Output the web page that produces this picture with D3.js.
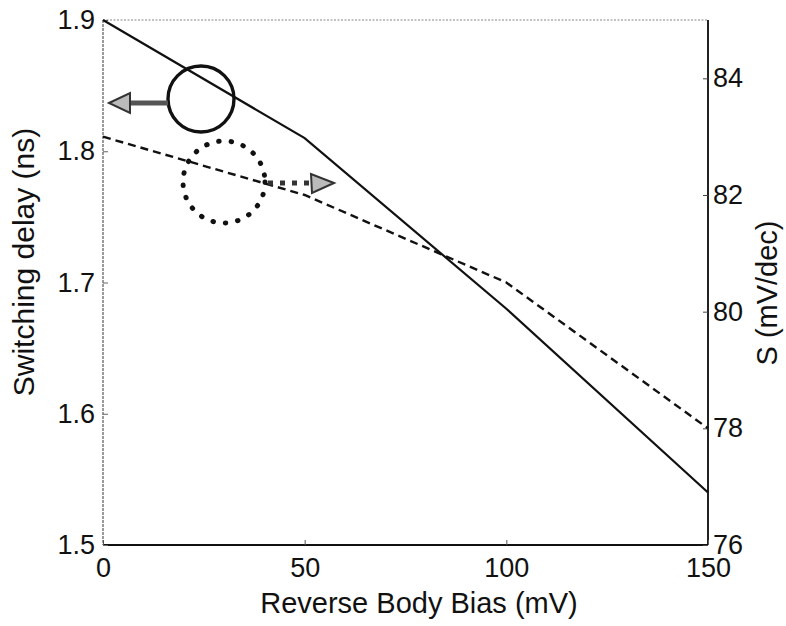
<!DOCTYPE html>
<html><head><meta charset="utf-8">
<script src="https://cdn.jsdelivr.net/npm/d3@7"></script>
<style>body{margin:0;background:#fff}svg text{font-family:"Liberation Sans",Arial,sans-serif;fill:#111}</style>
</head><body>
<svg id="c" width="786" height="626"></svg>
<script>
const biasMV = [0, 50, 100, 150];
const delayNs = [1.90, 1.81, 1.68, 1.54];
const slopeS = [83.0, 82.0, 80.5, 78.0];
const xTicks = [0, 50, 100, 150];
const yLeftTicks = [1.5, 1.6, 1.7, 1.8, 1.9];
const yRightTicks = [76, 78, 80, 82, 84];

const svg = d3.select("#c");
const L = 103, R = 708, T = 20, B = 545;
const x = d3.scaleLinear().domain([0, 150]).range([L, R]);
const yL = d3.scaleLinear().domain([1.5, 1.9]).range([B, T]);
const yR = d3.scaleLinear().domain([76, 85]).range([B, T]);

// frame
svg.append("line").attr("x1", L).attr("x2", R).attr("y1", T).attr("y2", T)
  .attr("stroke", "#888").attr("stroke-width", 1.2).attr("stroke-dasharray", "2,1.5");
svg.append("line").attr("x1", L).attr("x2", L).attr("y1", T).attr("y2", B)
  .attr("stroke", "#666").attr("stroke-width", 1.3).attr("stroke-dasharray", "3,1");
svg.append("line").attr("x1", R).attr("x2", R).attr("y1", T).attr("y2", B)
  .attr("stroke", "#222").attr("stroke-width", 2);
svg.append("line").attr("x1", L).attr("x2", R).attr("y1", B).attr("y2", B)
  .attr("stroke", "#111").attr("stroke-width", 2.2);

// axes
const fs = 27;
const gx = svg.append("g").attr("transform", `translate(0,${B})`)
  .call(d3.axisBottom(x).tickValues(xTicks).tickSize(-5).tickPadding(13).tickFormat(d3.format("d")));
gx.select(".domain").remove();
gx.selectAll("text").attr("font-size", fs).attr("dy", "0.71em");
gx.selectAll("line").attr("stroke", "#555");

const gl = svg.append("g").attr("transform", `translate(${L},0)`)
  .call(d3.axisLeft(yL).tickValues(yLeftTicks).tickSize(-5).tickPadding(8).tickFormat(d3.format(".1f")));
gl.select(".domain").remove();
gl.selectAll("text").attr("font-size", fs);
gl.selectAll("line").attr("stroke", "#666");

const gr = svg.append("g").attr("transform", `translate(${R},0)`)
  .call(d3.axisRight(yR).tickValues(yRightTicks).tickSize(-5).tickPadding(5).tickFormat(d3.format("d")));
gr.select(".domain").remove();
gr.selectAll("text").attr("font-size", fs);
gr.selectAll("line").attr("stroke", "#444");

// axis titles
svg.append("text").attr("x", 419).attr("y", 613).attr("text-anchor", "middle")
  .attr("font-size", 29).text("Reverse Body Bias (mV)");
svg.append("text").attr("transform", "translate(34,262) rotate(-90)").attr("text-anchor", "middle")
  .attr("font-size", 30).text("Switching delay (ns)");
svg.append("text").attr("transform", "translate(777,293) rotate(-90)").attr("text-anchor", "middle")
  .attr("font-size", 29).text("S (mV/dec)");

// series
const idx = d3.range(biasMV.length);
svg.append("path").datum(idx)
  .attr("d", d3.line().x(i => x(biasMV[i])).y(i => yL(delayNs[i])))
  .attr("fill", "none").attr("stroke", "#111").attr("stroke-width", 2.2);
svg.append("path").datum(idx)
  .attr("d", d3.line().x(i => x(biasMV[i])).y(i => yR(slopeS[i])))
  .attr("fill", "none").attr("stroke", "#111").attr("stroke-width", 2.4).attr("stroke-dasharray", "8,5");

// annotations: solid circle with left arrow
svg.append("circle").attr("cx", 201).attr("cy", 99).attr("r", 33)
  .attr("fill", "none").attr("stroke", "#111").attr("stroke-width", 3.4);
svg.append("line").attr("x1", 168).attr("x2", 128).attr("y1", 103).attr("y2", 103)
  .attr("stroke", "#555").attr("stroke-width", 5);
svg.append("path").attr("d", "M109,103 L130,93 L130,113 Z")
  .attr("fill", "#bbb").attr("stroke", "#333").attr("stroke-width", 2);

// dotted circle with right arrow
svg.append("circle").attr("cx", 224).attr("cy", 182).attr("r", 41)
  .attr("fill", "none").attr("stroke", "#111").attr("stroke-width", 5)
  .attr("stroke-linecap", "round").attr("stroke-dasharray", "0.5,12");
svg.append("line").attr("x1", 268).attr("x2", 310).attr("y1", 183).attr("y2", 183)
  .attr("stroke", "#333").attr("stroke-width", 5).attr("stroke-dasharray", "5,7");
svg.append("path").attr("d", "M334,183 L311,174 L312,193 Z")
  .attr("fill", "#bbb").attr("stroke", "#333").attr("stroke-width", 2);
</script>
</body></html>
